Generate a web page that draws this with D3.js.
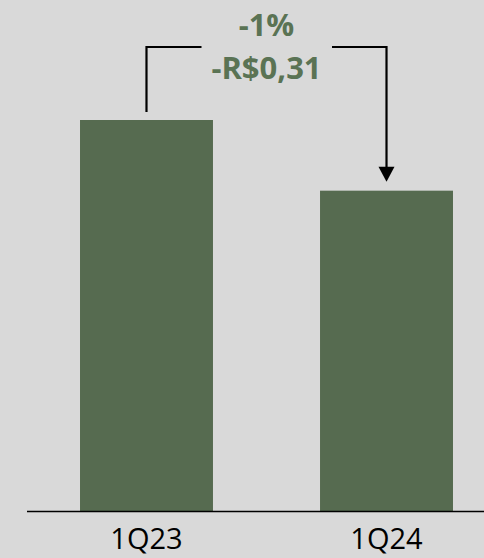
<!DOCTYPE html>
<html><head><meta charset="utf-8">
<script src="https://cdn.jsdelivr.net/npm/d3@7"></script>
<style>html,body{margin:0;padding:0;background:#d9d9d9;}</style>
</head><body>
<svg id="c" width="484" height="558"></svg>
<script>
const categories = ["1Q23", "1Q24"];
const values = [31.00, 30.69];
const deltaLabels = ["-1%", "-R$0,31"];

const svg = d3.select("#c");
svg.append("rect").attr("width",484).attr("height",558).attr("fill","#d9d9d9");
const x = d3.scaleBand().domain(categories).range([40, 493]).paddingInner(0.446).paddingOuter(0.1667);
const y = d3.scaleLinear().domain([29.285, 31.0]).range([511, 120]);

svg.selectAll("rect.bar").data(values).join("rect").attr("class","bar")
  .attr("x",(d,i)=>x(categories[i])).attr("width",x.bandwidth())
  .attr("y",d=>y(d)).attr("height",d=>y(29.285)-y(d)).attr("fill","#566b50");

svg.append("line").attr("x1",27).attr("x2",484).attr("y1",511.5).attr("y2",511.5)
  .attr("stroke","#000").attr("stroke-width",1.4);

const axis = d3.axisBottom(x).tickSize(0).tickPadding(0);
const g = svg.append("g").attr("transform","translate(0,549)").call(axis);
g.select(".domain").remove();
g.selectAll("text").attr("dy",0).attr("font-family","'Open Sans', sans-serif").attr("font-size",29).attr("fill","#000");

const c1 = x(categories[0]) + x.bandwidth()/2;
const c2 = x(categories[1]) + x.bandwidth()/2;
const topY = 47;
svg.append("path").attr("d",`M${c1},${y(values[0])-8} V${topY} H201.5`)
  .attr("fill","none").attr("stroke","#000").attr("stroke-width",2.2);
svg.append("path").attr("d",`M332,${topY} H${c2} V${y(values[1])-22}`)
  .attr("fill","none").attr("stroke","#000").attr("stroke-width",2.2);
const tipY = y(values[1]) - 9;
svg.append("path").attr("d",`M${c2-8},${tipY-15} L${c2+8},${tipY-15} L${c2},${tipY} Z`).attr("fill","#000");

const mid = (c1+c2)/2;
svg.selectAll("text.dl").data(deltaLabels).join("text").attr("class","dl")
  .attr("x",mid).attr("y",(d,i)=>36+i*42.5).attr("text-anchor","middle")
  .attr("font-family","'Open Sans', sans-serif").attr("font-weight","bold").attr("font-size",31)
  .attr("fill","#5a7354").text(d=>d);
</script>
</body></html>
